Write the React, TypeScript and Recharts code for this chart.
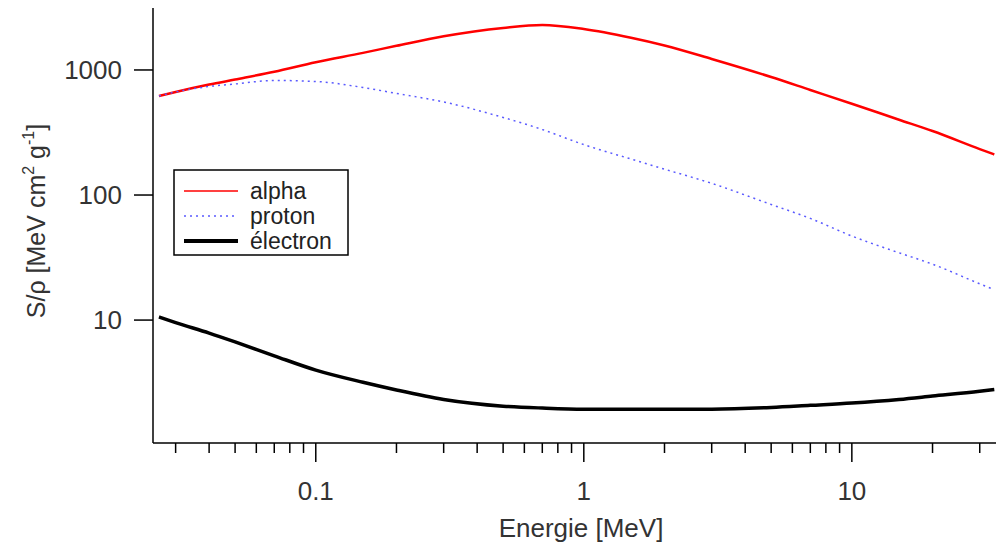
import { LineChart, Line, XAxis, YAxis } from 'recharts'

const FONT = '"Liberation Sans", Arial, sans-serif'

// energy [MeV] sample points
const energies = [0.026, 0.03, 0.04, 0.05, 0.07, 0.1, 0.15, 0.2, 0.3, 0.5, 0.7, 1, 1.5, 2, 3, 5, 7, 10, 15, 20, 30, 34]
// S/rho [MeV cm2 g-1]
const alpha = [620, 667, 764, 839, 969, 1154, 1370, 1560, 1860, 2168, 2291, 2128, 1810, 1570, 1225, 879, 692, 537, 400, 325, 233, 211]
const proton = [620, 667, 738, 773, 824, 809, 724, 649, 555, 417, 334, 253, 194, 161, 124, 84, 65, 47, 34.5, 28, 19.5, 17.5]
const electron = [10.6, 9.55, 7.87, 6.69, 5.18, 3.98, 3.18, 2.76, 2.32, 2.05, 1.98, 1.94, 1.94, 1.94, 1.94, 2.0, 2.08, 2.17, 2.32, 2.47, 2.7, 2.79]

const xTicks = [0.03, 0.04, 0.05, 0.06, 0.07, 0.08, 0.09, 0.1, 0.2, 0.3, 0.4, 0.5, 0.6, 0.7, 0.8, 0.9, 1, 2, 3, 4, 5, 6, 7, 8, 9, 10, 20, 30]
const xMajor = [0.1, 1, 10]
const yTicks = [10, 100, 1000]

const series = [
  { key: 'alpha', name: 'alpha', color: '#ff0000', width: 2.5, dash: undefined as string | undefined },
  { key: 'proton', name: 'proton', color: '#5a5aff', width: 1.5, dash: '2 4' },
  { key: 'electron', name: 'électron', color: '#000000', width: 3.5, dash: undefined },
]

const data = energies.map((e, i) => ({
  energy: e,
  alpha: alpha[i],
  proton: proton[i],
  electron: electron[i],
}))

function XTick({ x, y, payload }: any) {
  const major = xMajor.includes(payload.value)
  return (
    <g>
      <line x1={x} x2={x} y1={y} y2={y + (major ? 19 : 10)} stroke="#000" strokeWidth={1.5} />
      {major && (
        <text x={x} y={y + 57} textAnchor="middle" fontSize={26} fill="#333" fontFamily={FONT}>
          {payload.value}
        </text>
      )}
    </g>
  )
}

function YTick({ x, y, payload }: any) {
  return (
    <g>
      <line x1={x - 19} x2={x} y1={y} y2={y} stroke="#000" strokeWidth={1.5} />
      <text x={x - 31} y={y} dy={9} textAnchor="end" fontSize={26} fill="#333" fontFamily={FONT}>
        {payload.value}
      </text>
    </g>
  )
}

function XTitle() {
  return (
    <text x={581} y={537} textAnchor="middle" fontSize={26} fill="#333" fontFamily={FONT}>
      Energie [MeV]
    </text>
  )
}

function YTitle() {
  return (
    <text transform="translate(45, 221) rotate(-90)" textAnchor="middle" fontSize={25} fill="#333" fontFamily={FONT}>
      S/ρ [MeV cm
      <tspan dy={-11} fontSize={16}>2</tspan>
      <tspan dy={11}> g</tspan>
      <tspan dy={-11} fontSize={16}>-1</tspan>
      <tspan dy={11}>]</tspan>
    </text>
  )
}

function LegendBox() {
  return (
    <svg width={176} height={87} style={{ position: 'absolute', left: 173, top: 169 }}>
      <rect x={1} y={1} width={174} height={85} fill="#fff" stroke="#000" strokeWidth={1.5} />
      {series.map((s, i) => (
        <g key={s.key}>
          <line
            x1={11}
            x2={65}
            y1={22 + i * 25}
            y2={22 + i * 25}
            stroke={s.color}
            strokeWidth={s.key === 'electron' ? 4 : 1.5}
            strokeDasharray={s.dash}
          />
          <text x={77} y={22 + i * 25} dy={8} fontSize={23} fill="#222" fontFamily={FONT}>
            {s.name}
          </text>
        </g>
      ))}
    </svg>
  )
}

export default function App() {
  return (
    <div style={{ position: 'absolute', left: 0, top: 0, width: 996, height: 545, background: '#fff' }}>
      <LineChart width={996} height={545} data={data} margin={{ top: 8, right: 0, left: 0, bottom: 0 }}>
        <XAxis
          dataKey="energy"
          type="number"
          scale="log"
          domain={[0.0247, 34.5]}
          allowDataOverflow
          ticks={xTicks}
          interval={0}
          height={102}
          tickSize={0}
          tickMargin={0}
          tickLine={false}
          tick={<XTick />}
          axisLine={{ stroke: '#000', strokeWidth: 1.5 }}
          label={<XTitle />}
        />
        <YAxis
          type="number"
          scale="log"
          domain={[1.04, 3130]}
          allowDataOverflow
          ticks={yTicks}
          interval={0}
          width={153}
          tickSize={0}
          tickMargin={0}
          tickLine={false}
          tick={<YTick />}
          axisLine={{ stroke: '#000', strokeWidth: 1.5 }}
          label={<YTitle />}
        />
        {series.map((s) => (
          <Line
            key={s.key}
            dataKey={s.key}
            name={s.name}
            type="monotone"
            stroke={s.color}
            strokeWidth={s.width}
            strokeDasharray={s.dash}
            dot={false}
            isAnimationActive={false}
          />
        ))}
      </LineChart>
      <LegendBox />
    </div>
  )
}
